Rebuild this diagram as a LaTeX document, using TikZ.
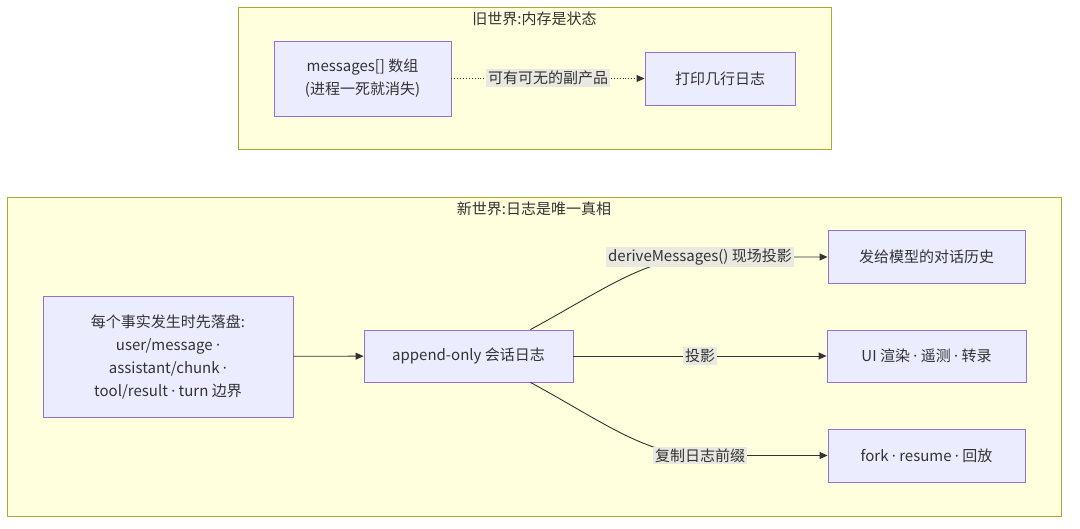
\documentclass[tikz,border=0pt]{standalone}
\usepackage{fontspec}
\setmainfont{Noto Sans CJK SC}
\newfontfamily\latfont{Noto Sans}
\newcommand{\mdot}{{\latfont ·}}
\usetikzlibrary{arrows.meta}
\definecolor{clfill}{HTML}{FFFFDE}
\definecolor{cldraw}{HTML}{AAAA33}
\definecolor{ndfill}{HTML}{ECECFF}
\definecolor{nddraw}{HTML}{9370DB}
\definecolor{txt}{HTML}{333333}
\definecolor{lblbg}{RGB}{233,233,226}
\tikzset{
  cluster/.style={draw=cldraw, fill=clfill, line width=0.9pt, inner sep=0pt},
  box/.style={draw=nddraw, fill=ndfill, line width=0.9pt, inner sep=0pt, align=center, text=txt,
    font=\fontsize{15}{23}\selectfont},
  ttl/.style={text=txt, inner sep=0pt, font=\fontsize{15}{18}\selectfont},
  lbl/.style={fill=lblbg, text=txt, inner sep=2pt, font=\fontsize{15}{18}\selectfont},
  edge/.style={draw=txt, line width=0.9pt, -{Triangle[length=8pt,width=7pt]}},
  dotedge/.style={edge, dotted}
}
\begin{document}
\begin{tikzpicture}[x=1pt,y=-1pt]
\useasboundingbox (0,0) rectangle (1080,529);
\fill[white] (0,0) rectangle (1080,529);
% old world
\node[cluster, minimum width=593, minimum height=142] (old) at (534.5,78) {};
\node[ttl] (oldt) at (534.5,19) {旧世界:内存是状态};
\node[box, minimum width=177, minimum height=75] (msg) at (362.5,78.5) {messages[] 数组\\(进程一死就消失)};
\node[box, minimum width=150, minimum height=53] (log) at (720,78.5) {打印几行日志};
\draw[dotedge] (msg) -- (log);
\node[lbl] (l0) at (548,78) {可有可无的副产品};
% new world
\node[cluster, minimum width=1054, minimum height=319] (new) at (534,356.5) {};
\node[ttl] (newt) at (534,209) {新世界:日志是唯一真相};
\node[box, minimum width=250, minimum height=121] (ev) at (168,356.5) {每个事实发生时先落盘:\\user/message \mdot\\assistant/chunk \mdot\\tool/result \mdot{} turn 边界};
\node[box, minimum width=209, minimum height=52] (ap) at (468.5,356) {append-only 会话日志};
\node[box, minimum width=197, minimum height=53] (hist) at (926.5,256.5) {发给模型的对话历史};
\node[box, minimum width=199, minimum height=52] (ui) at (926.5,356) {UI 渲染 \mdot{} 遥测 \mdot{} 转录};
\node[box, minimum width=197, minimum height=53] (fork) at (926.5,455.5) {fork \mdot{} resume \mdot{} 回放};
\coordinate (c1) at (700,257);
\coordinate (c3) at (700,455.5);
\draw[edge] (ev) -- (ap);
\draw[edge] ([xshift=-43pt]ap.north east) .. controls (600,292) and (645,258) .. (c1) -- (hist.west |- c1);
\draw[edge] (ap) -- (ui);
\draw[edge] ([xshift=-43pt]ap.south east) .. controls (600,420) and (645,455) .. (c3) -- (fork.west |- c3);
\node[lbl] (l1) at (c1) {deriveMessages() 现场投影};
\node[lbl] (l2) at (700,356) {投影};
\node[lbl] (l3) at (c3) {复制日志前缀};
\end{tikzpicture}
\end{document}
